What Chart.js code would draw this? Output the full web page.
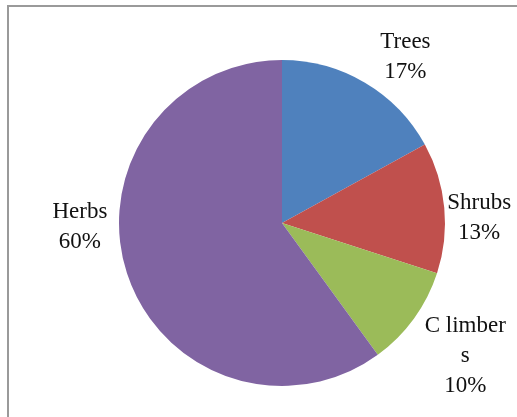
<!DOCTYPE html>
<html>
<head>
<meta charset="utf-8">
<script src="https://cdn.jsdelivr.net/npm/chart.js@4/dist/chart.umd.min.js"></script>
<style>
  html, body { margin: 0; padding: 0; background: #fff; }
  #wrap { position: relative; width: 517px; height: 417px; overflow: hidden; }
  #frame { position: absolute; left: 7px; top: 5px; width: 540px; height: 440px;
           border-left: 2px solid #9a9a9a; border-top: 2px solid #9a9a9a; box-sizing: border-box; }
  canvas { position: absolute; left: 0; top: 0; }
</style>
</head>
<body>
<div id="wrap">
  <div id="frame"></div>
  <canvas id="c" width="517" height="417"></canvas>
</div>
<script>
const categories = ["Trees", "Shrubs", "Climbers", "Herbs"];
const labelLines = [["Trees", "17%"], ["Shrubs", "13%"], ["C limber", "s", "10%"], ["Herbs", "60%"]];
const values = [17, 13, 10, 60];
const colors = ["#4F81BD", "#C0504D", "#9BBB59", "#8064A2"];

// label placement: angle shift from slice mid-angle (deg) and distance factor of radius
const labelPlace = [
  { dAng: 6, dist: 1.27 },
  { dAng: 4, dist: 1.21 },
  { dAng: 0, dist: 1.39 },
  { dAng: 17, dist: 1.24 }
];

const outLabels = {
  id: "outLabels",
  afterDatasetsDraw(chart) {
    const ctx = chart.ctx;
    const meta = chart.getDatasetMeta(0);
    ctx.save();
    ctx.font = '23px "Liberation Serif", "Times New Roman", serif';
    ctx.fillStyle = "#111";
    ctx.textAlign = "center";
    ctx.textBaseline = "middle";
    const lh = 30;
    meta.data.forEach((arc, i) => {
      const p = arc.getProps(["x", "y", "startAngle", "endAngle", "outerRadius"], true);
      const mid = (p.startAngle + p.endAngle) / 2 + labelPlace[i].dAng * Math.PI / 180;
      const r = p.outerRadius * labelPlace[i].dist;
      const cx = p.x + Math.cos(mid) * r;
      const cy = p.y + Math.sin(mid) * r;
      const lines = labelLines[i];
      const y0 = cy - (lines.length - 1) * lh / 2;
      lines.forEach((t, k) => ctx.fillText(t, cx, y0 + k * lh));
    });
    ctx.restore();
  }
};

new Chart(document.getElementById("c"), {
  type: "pie",
  data: {
    labels: categories,
    datasets: [{ data: values, backgroundColor: colors, borderWidth: 0 }]
  },
  options: {
    responsive: false,
    animation: false,
    layout: { padding: { top: 60, bottom: 31, left: 100, right: 53 } },
    plugins: { legend: { display: false }, tooltip: { enabled: false } }
  },
  plugins: [outLabels]
});
</script>
</body>
</html>
